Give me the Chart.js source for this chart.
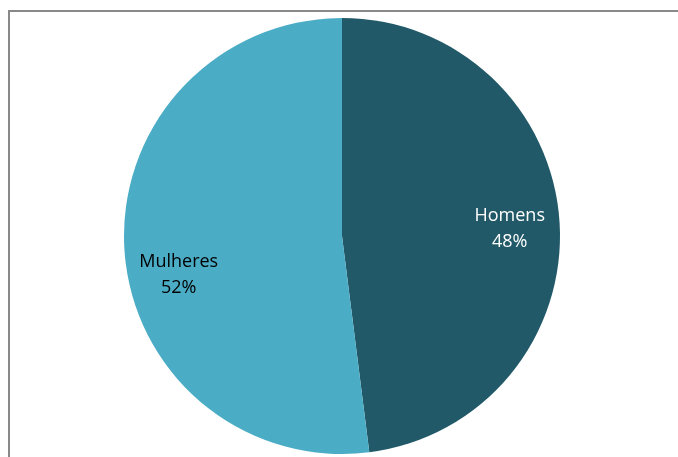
<!DOCTYPE html>
<html>
<head>
<meta charset="utf-8">
<script src="https://cdn.jsdelivr.net/npm/chart.js@4/dist/chart.umd.min.js"></script>
<style>
  html, body { margin: 0; padding: 0; background: #ffffff; }
  #wrap { position: relative; width: 678px; height: 457px; overflow: hidden; }
  #frame { position: absolute; left: 8px; top: 10px; width: 680px; height: 460px;
           border-left: 2px solid #898989; border-top: 2px solid #898989; box-sizing: border-box; }
  canvas { position: absolute; left: 0; top: 0; }
</style>
</head>
<body>
<div id="wrap">
  <div id="frame"></div>
  <canvas id="c" width="678" height="457"></canvas>
</div>
<script>
const categories = ["Homens", "Mulheres"];
const values = [48, 52];
const colors = ["#215968", "#4BACC6"];
const labelColors = ["#ffffff", "#000000"];

const labelPlugin = {
  id: "pieLabels",
  afterDatasetsDraw(chart, args, opts) {
    const ctx = chart.ctx;
    const meta = chart.getDatasetMeta(0);
    const total = values.reduce((a, b) => a + b, 0);
    ctx.save();
    ctx.font = opts.font;
    ctx.textAlign = "center";
    ctx.textBaseline = "middle";
    meta.data.forEach((arc, i) => {
      const p = arc.getProps(["x", "y", "startAngle", "endAngle", "outerRadius"], true);
      const mid = (p.startAngle + p.endAngle) / 2 + (opts.angleShift[i] || 0) * Math.PI / 180;
      const r = p.outerRadius * opts.radiusFactor;
      const cx = p.x + Math.cos(mid) * r;
      const cy = p.y + Math.sin(mid) * r;
      ctx.fillStyle = labelColors[i];
      const pct = Math.round(values[i] / total * 100) + "%";
      ctx.fillText(categories[i], cx, cy - opts.lineHeight / 2);
      ctx.fillText(pct, cx, cy + opts.lineHeight / 2);
    });
    ctx.restore();
  }
};

new Chart(document.getElementById("c"), {
  type: "pie",
  data: {
    labels: categories,
    datasets: [{
      data: values,
      backgroundColor: colors,
      borderWidth: 0
    }]
  },
  options: {
    responsive: false,
    animation: false,
    layout: { padding: { top: 18, bottom: 3, left: 6, right: 0 } },
    plugins: {
      legend: { display: false },
      tooltip: { enabled: false },
      pieLabels: {
        font: "18px 'Open Sans'",
        lineHeight: 26,
        radiusFactor: 0.77,
        angleShift: [1.2, -9.8]
      }
    }
  },
  plugins: [labelPlugin]
});
</script>
</body>
</html>
